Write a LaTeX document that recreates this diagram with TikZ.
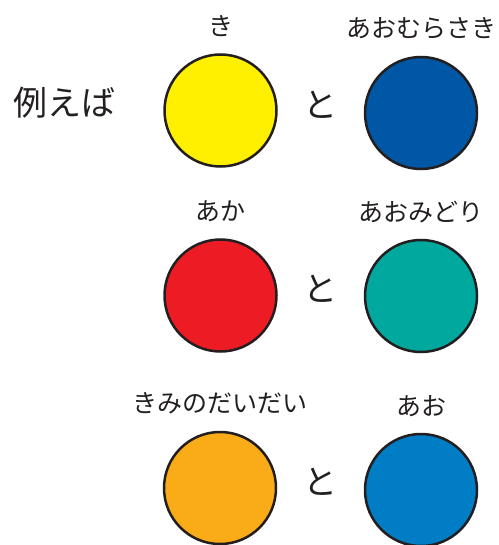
\documentclass[tikz,border=0pt]{standalone}
\usepackage{fontspec}
\newfontfamily\jpfont{Noto Sans CJK JP}
\usetikzlibrary{positioning}
\definecolor{outline}{HTML}{231F20}
\definecolor{ink}{HTML}{231F20}
\definecolor{kiiro}{HTML}{FFF000}
\definecolor{murasaki}{HTML}{0057A6}
\definecolor{aka}{HTML}{ED1C24}
\definecolor{midori}{HTML}{00A89D}
\definecolor{daidai}{HTML}{FAAC18}
\definecolor{ao}{HTML}{007DC5}
\tikzstyle{swatch}=[circle,draw=outline,line width=2.5pt,minimum size=112pt,inner sep=0pt]
\tikzstyle{colname}=[font=\jpfont\fontsize{25pt}{25pt}\selectfont,text=ink,inner sep=0pt]
\tikzstyle{conj}=[font=\jpfont\fontsize{34pt}{34pt}\selectfont,text=ink,inner sep=0pt]

\begin{document}
\begin{tikzpicture}[x=1pt,y=-1pt]
	\useasboundingbox (0,0) rectangle (498,545);
	% First we draw the colour circles
	\foreach \pos/\name/\col in {{(220.5,110.5)/ki/kiiro}, {(421,113)/amu/murasaki},
		{(220.5,295.5)/ak/aka}, {(421,296)/ami/midori},
		{(220,488)/kd/daidai}, {(421,490)/ao/ao}}
	\node[swatch,fill=\col] (\name) at \pos {};

	% Names above the circles
	\foreach \name/\text in {ki/き, amu/あおむらさき, ak/あか, ami/あおみどり, kd/きみのだいだい, ao/あお}
	\node[colname, above=27pt of \name.north, anchor=center] (\name-label) {\text};

	% The word between each pair
	\foreach \source/ \dest in {ki/amu, ak/ami, kd/ao}
	\path (\source) -- node[conj, yshift=7pt] (\source-to) {と} (\dest);

	\node[conj, left=99pt of ki.west, anchor=center, yshift=7.5pt] (intro) {例えば};
\end{tikzpicture}
\end{document}
